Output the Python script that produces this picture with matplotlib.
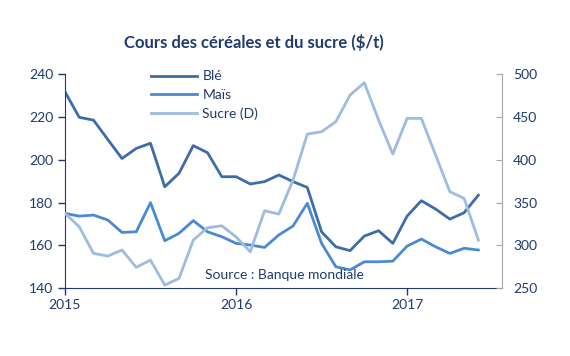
import matplotlib.pyplot as plt

plt.rcParams['font.family'] = ['Lato', 'DejaVu Sans']

# monthly data, Jan 2015 -> Jun 2017
months = list(range(30))
ble = [231.7, 219.8, 218.5, 209.5, 200.6, 205.3, 207.7, 187.4, 193.7, 206.6,
       203.3, 192.1, 192.1, 188.7, 189.8, 192.9, 189.8, 187.1, 166.4, 159.4,
       157.6, 164.4, 166.9, 161.0, 173.7, 180.9, 177.0, 172.3, 175.3, 183.5]
mais = [175.0, 173.7, 174.2, 171.9, 166.1, 166.4, 180.0, 162.2, 165.7, 171.6,
        166.4, 164.1, 161.0, 160.2, 159.1, 164.9, 169.1, 179.7, 161.0, 150.1,
        148.6, 152.4, 152.4, 152.7, 159.7, 163.0, 159.4, 156.3, 158.7, 157.9]
sucre = [337.5, 321.9, 290.8, 287.7, 294.7, 274.5, 283.0, 253.8, 261.6, 306.3,
         320.7, 323.0, 310.0, 292.7, 340.5, 336.7, 376.3, 430.0, 432.7, 444.4,
         475.5, 489.9, 446.3, 406.7, 448.3, 448.3, 405.5, 362.7, 355.0, 306.3]
year_ticks = [0, 12, 24]
year_labels = ['2015', '2016', '2017']

navy = '#1F3A6E'
c_ble = '#3D6DA8'
c_mais = '#4A8AD4'
c_sucre = '#9DBCE0'

fig = plt.figure(figsize=(5.7, 3.56), dpi=100)
ax = fig.add_axes([0.114, 0.190, 0.767, 0.602])
ax2 = ax.twinx()

l1, = ax.plot(months, ble, color=c_ble, lw=2.0)
l2, = ax.plot(months, mais, color=c_mais, lw=2.0)
l3, = ax2.plot(months, sucre, color=c_sucre, lw=2.0)

ax.set_xlim(0, 30.67)
ax.set_ylim(140, 240)
ax.set_yticks([140, 160, 180, 200, 220, 240])
ax2.set_ylim(250, 500)
ax2.set_yticks([250, 300, 350, 400, 450, 500])
ax.set_xticks(year_ticks)
ax.set_xticklabels(year_labels)

for s in ['top', 'right']:
    ax.spines[s].set_visible(False)
for s in ['top', 'left', 'bottom']:
    ax2.spines[s].set_visible(False)
ax.spines['left'].set_color(navy)
ax.spines['bottom'].set_color(navy)
ax2.spines['right'].set_color('#A6A6A6')

ax.tick_params(axis='both', colors=navy, labelsize=10, length=5, width=1)
ax.tick_params(axis='x', pad=3)
ax2.tick_params(axis='y', direction='in', length=4, color='#A6A6A6',
                labelcolor=navy, labelsize=10, pad=8)

ax.legend([l1, l2, l3], ['Blé', 'Maïs', 'Sucre (D)'], loc='upper left',
          bbox_to_anchor=(0.168, 1.075), frameon=False, fontsize=10,
          handlelength=3.3, handletextpad=0.4, labelspacing=0.45,
          labelcolor=navy)

ax.text(0.32, 0.045, 'Source : Banque mondiale', transform=ax.transAxes,
        color=navy, fontsize=10)
fig.text(0.445, 0.882, 'Cours des céréales et du sucre ($/t)', ha='center',
         va='center', color=navy, fontsize=12, fontweight='bold')

fig.savefig('out.png', dpi=100)
